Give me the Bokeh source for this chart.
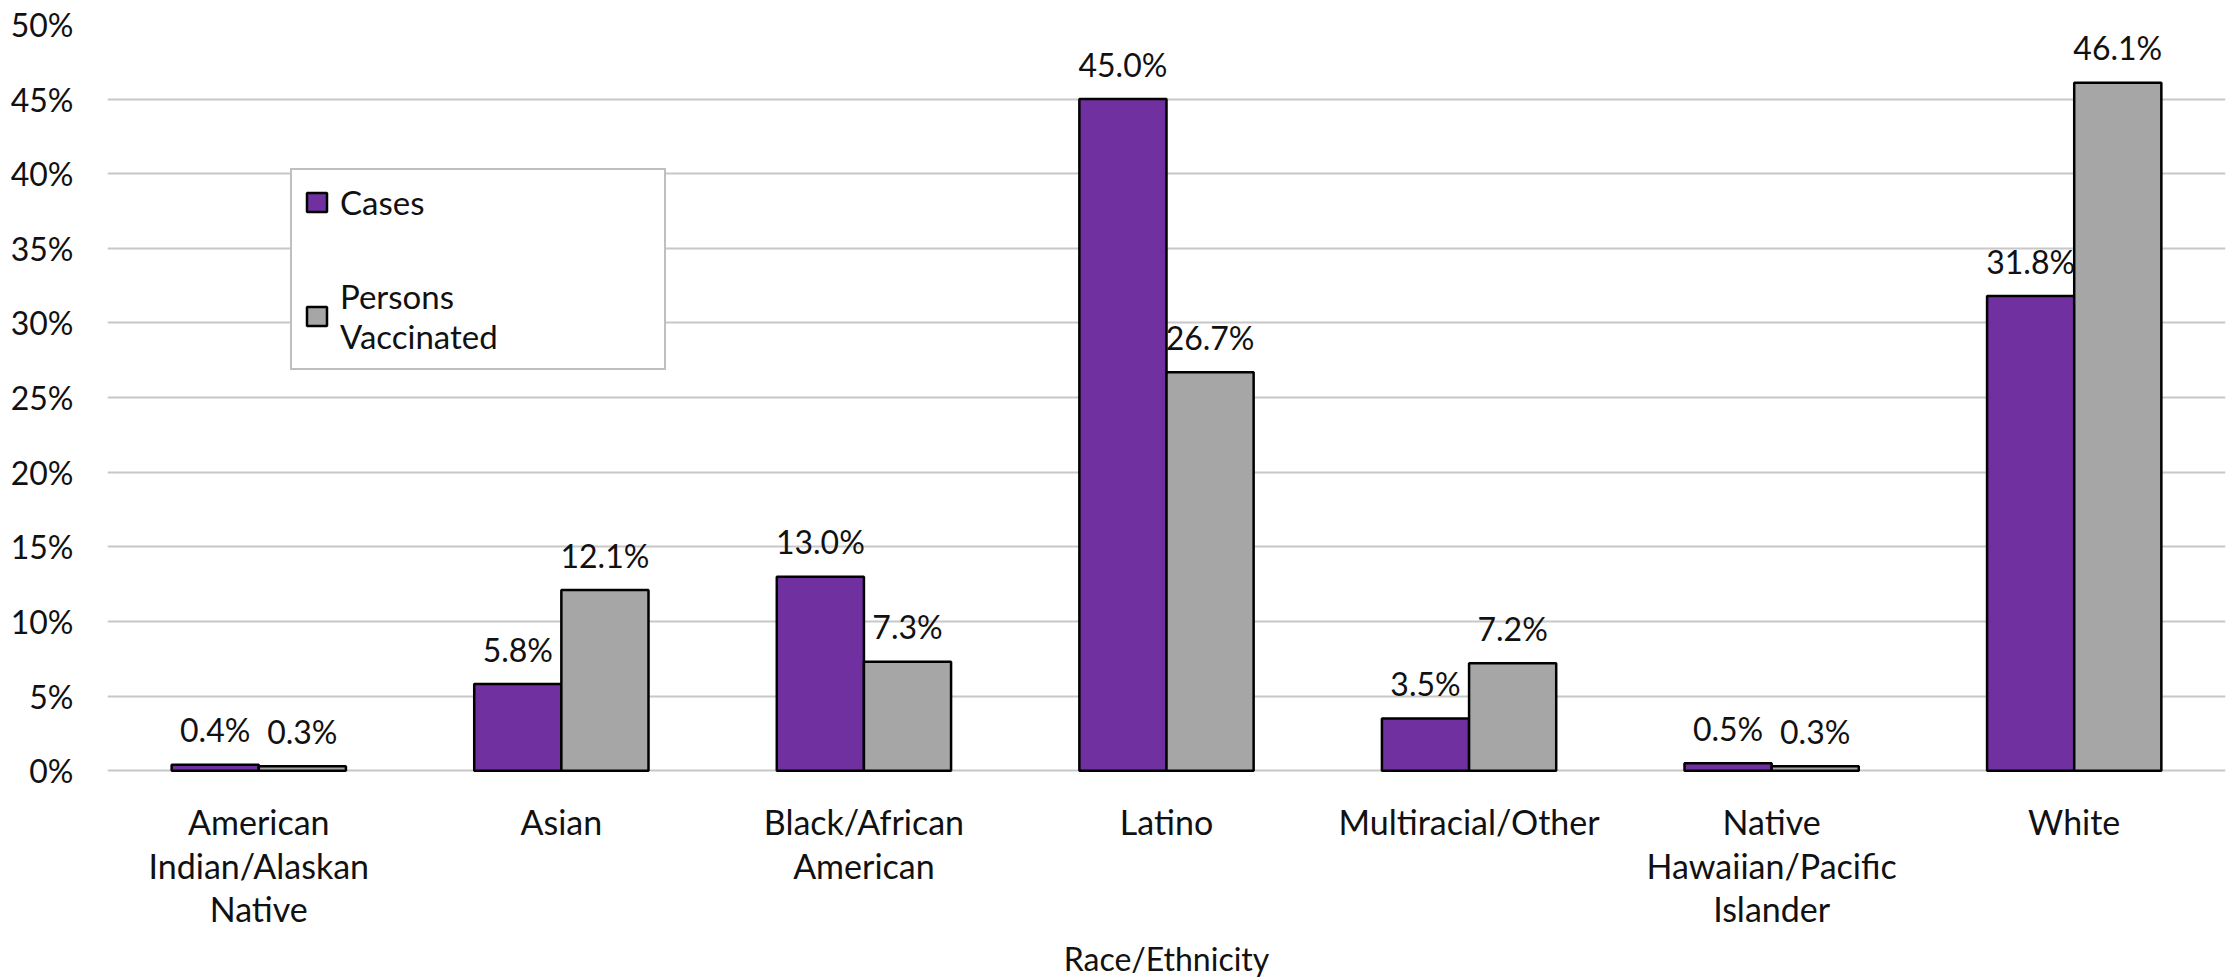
from bokeh.plotting import figure
from bokeh.models import (ColumnDataSource, FactorRange, Range1d, LabelSet, Legend, LegendItem,
                          PrintfTickFormatter, FixedTicker)
from bokeh.core.properties import value
from bokeh.transform import dodge
from bokeh.embed import file_html
from bokeh.resources import INLINE

categories = ["American Indian/Alaskan Native", "Asian", "Black/African American", "Latino",
              "Multiracial/Other", "Native Hawaiian/Pacific Islander", "White"]
category_labels = ["American\nIndian/Alaskan\nNative", "Asian", "Black/African\nAmerican", "Latino",
                   "Multiracial/Other", "Native\nHawaiian/Pacific\nIslander", "White"]
cases = [0.4, 5.8, 13.0, 45.0, 3.5, 0.5, 31.8]
vaccinated = [0.3, 12.1, 7.3, 26.7, 7.2, 0.3, 46.1]
y_ticks = [0, 5, 10, 15, 20, 25, 30, 35, 40, 45, 50]

FONT = "Lato"
FS = "32px"
TXT = "#111111"

src = ColumnDataSource(dict(
    cat=categories, cases=cases, vacc=vaccinated,
    cases_lbl=[f"{v:.1f}%" for v in cases],
    vacc_lbl=[f"{v:.1f}%" for v in vaccinated],
))

p = figure(width=2234, height=980, x_range=FactorRange(*categories), y_range=Range1d(-10.24, 50),
           output_backend="svg", toolbar_location=None,
           min_border_left=107, min_border_right=9, min_border_top=24, min_border_bottom=50)
p.outline_line_color = None
p.background_fill_color = "white"
p.border_fill_color = "white"

bw = 0.288
r1 = p.vbar(x=dodge("cat", -bw / 2, range=p.x_range), top="cases", width=bw, source=src,
            fill_color="#7030A0", line_color="black", line_width=2.5)
r2 = p.vbar(x=dodge("cat", bw / 2, range=p.x_range), top="vacc", width=bw, source=src,
            fill_color="#A6A6A6", line_color="black", line_width=2.5)

for col, lbl, off in (("cases", "cases_lbl", -bw / 2), ("vacc", "vacc_lbl", bw / 2)):
    ls = LabelSet(x=dodge("cat", off, range=p.x_range), y=col, text=lbl, source=src,
                  text_align="center", text_baseline="middle", y_offset=35,
                  text_font=value(FONT), text_font_size=value(FS), text_color=TXT)
    p.add_layout(ls)

# category labels: one centred line at a time, below the zero line
split = [s.split("\n") for s in category_labels]
for i in range(max(len(s) for s in split)):
    xs = [c for c, s in zip(categories, split) if len(s) > i]
    ts = [s[i] for s in split if len(s) > i]
    lsrc = ColumnDataSource(dict(cat=xs, y=[0] * len(xs), text=ts))
    p.add_layout(LabelSet(x="cat", y="y", text="text", source=lsrc,
                          text_align="center", text_baseline="middle", y_offset=-51 - 43.5 * i,
                          text_font=value(FONT), text_font_size=value("34px"), text_color=TXT))

p.xgrid.grid_line_color = None
p.ygrid.grid_line_color = "#C8C8C8"
p.ygrid.grid_line_width = 2
p.ygrid.ticker = FixedTicker(ticks=y_ticks)

ya = p.yaxis[0]
ya.ticker = FixedTicker(ticks=y_ticks)
ya.formatter = PrintfTickFormatter(format="%d%%")
ya.axis_line_color = None
ya.major_tick_line_color = None
ya.minor_tick_line_color = None
ya.major_label_text_font = FONT
ya.major_label_text_font_size = FS
ya.major_label_text_color = TXT
ya.major_label_standoff = 28

xa = p.xaxis[0]
xa.axis_line_color = None
xa.major_tick_line_color = None
xa.minor_tick_line_color = None
xa.major_label_text_font_size = "0px"
xa.major_label_text_alpha = 0
xa.major_label_standoff = 0
xa.axis_label = "Race/Ethnicity"
xa.axis_label_text_font = FONT
xa.axis_label_text_font_size = FS
xa.axis_label_text_font_style = "normal"
xa.axis_label_text_color = TXT
xa.axis_label_standoff = 9

legend = Legend(items=[LegendItem(label="Cases", renderers=[r1]),
                       LegendItem(label="Persons\nVaccinated", renderers=[r2])],
                location=(183, 553))
legend.label_text_font = FONT
legend.label_text_font_size = "33px"
legend.label_text_color = TXT
legend.glyph_width = 25
legend.glyph_height = 24
legend.label_standoff = 11
legend.spacing = 54
legend.padding = 12
legend.label_width = 312
legend.border_line_color = "#7F7F7F"
legend.border_line_width = 2
legend.background_fill_alpha = 1
p.add_layout(legend, "center")

open("out.html", "w").write(file_html(p, INLINE))
